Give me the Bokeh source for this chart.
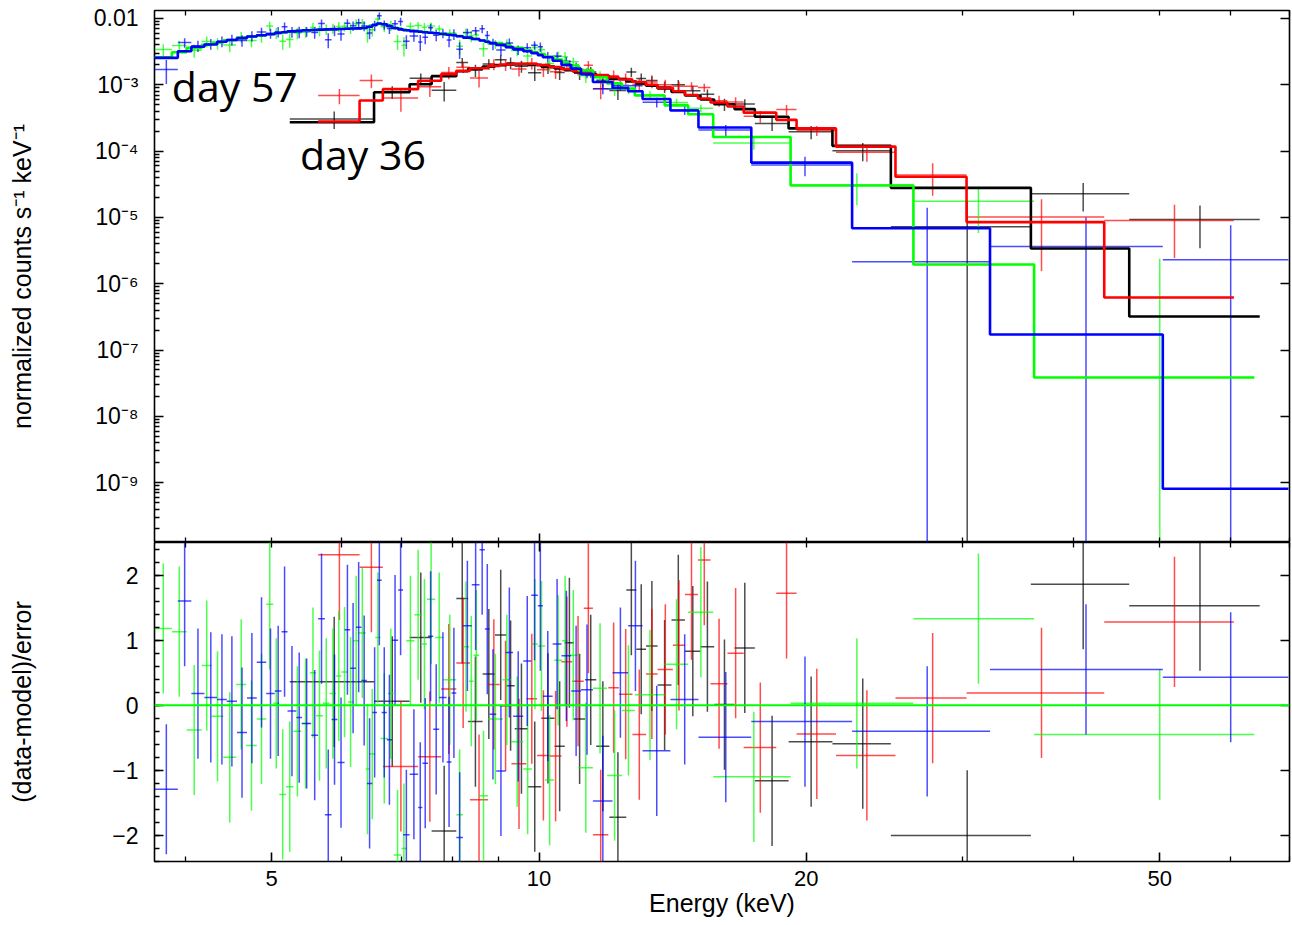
import numpy as np
from bokeh.plotting import figure
from bokeh.layouts import column
from bokeh.models import (Range1d, FixedTicker, LogAxis, LinearAxis, Label, Span,
                          CustomJSTickFormatter)
from bokeh.embed import file_html
from bokeh.resources import INLINE

# ---------------- data ----------------
# day 57, blue data set: bin edges (keV), model (counts/s/keV), residual, fractional error
blue_edges = [3.69, 3.92, 4.06, 4.20, 4.34, 4.45, 4.57, 4.69, 4.81, 4.93,
              5.04, 5.13, 5.21, 5.33, 5.41, 5.54, 5.64, 5.74, 5.84, 5.93,
              6.04, 6.13, 6.22, 6.31, 6.40, 6.49, 6.57, 6.65, 6.74, 6.83,
              6.94, 7.03, 7.15, 7.31, 7.39, 7.50, 7.60, 7.72, 7.87, 7.97,
              8.07, 8.21, 8.40, 8.57, 8.69, 8.80, 8.95, 9.17, 9.35, 9.60,
              9.80, 9.97, 10.10, 10.36, 10.60, 10.87, 11.15, 11.50, 12.10, 12.60,
              13.08, 14.06, 15.12, 17.34, 22.52, 32.20, 50.40, 69.80]
blue_model = [2.55e-3, 3.21e-3, 3.74e-3, 4.05e-3, 4.45e-3, 4.75e-3, 5.05e-3, 5.35e-3, 5.6e-3, 5.8e-3,
              6.05e-3, 6.2e-3, 6.4e-3, 6.5e-3, 6.65e-3, 6.7e-3, 6.8e-3, 6.85e-3, 6.9e-3, 6.95e-3,
              7.0e-3, 7.05e-3, 7.1e-3, 7.2e-3, 7.5e-3, 8.0e-3, 8.4e-3, 8.2e-3, 7.7e-3, 7.2e-3,
              6.85e-3, 6.65e-3, 6.45e-3, 6.3e-3, 6.2e-3, 6.1e-3, 6.0e-3, 5.85e-3, 5.7e-3, 5.6e-3,
              5.4e-3, 5.15e-3, 4.9e-3, 4.65e-3, 4.45e-3, 4.25e-3, 4.0e-3, 3.7e-3, 3.45e-3, 3.2e-3,
              3.0e-3, 2.8e-3, 2.6e-3, 2.3e-3, 2.0e-3, 1.75e-3, 1.45e-3, 1.1e-3, 9.0e-4, 8.0e-4,
              6.1e-4, 4.1e-4, 2.27e-4, 6.7e-5, 6.87e-6, 1.71e-7, 8.1e-10]
blue_resid = [-1.29, 1.60, 0.18, 0.12, 0.09, 0.06, -0.42, 0.11, 0.66, 0.18,
              0.22, 1.13, -0.09, -0.19, -0.28, -0.46, 1.33, -1.68, -0.22, -0.88,
              1.16, 0.57, 1.20, 0.38, -1.20, -0.11, 1.92, -0.11, -0.53, 1.00,
              1.77, -1.99, -1.06, -1.57, -0.89, 1.06, -0.37, 0.12, -0.87, 0.19,
              -2.03, 1.22, 1.85, 2.39, 1.17, -0.14, -1.01, 0.81, -0.17, 0.68,
              1.69, 1.53, 0.14, 0.94, 0.76, 0.22, 0.24, -1.47, 0.50, 1.22,
              -0.70, 0.09, -0.49, -0.25, -0.40, 0.55, 0.43]
blue_ferr = [0.26, 0.22, 0.20, 0.19, 0.19, 0.19, 0.18, 0.18, 0.18, 0.18,
             0.19, 0.19, 0.18, 0.19, 0.16, 0.18, 0.18, 0.18, 0.18, 0.18,
             0.18, 0.18, 0.18, 0.18, 0.16, 0.18, 0.16, 0.16, 0.16, 0.16,
             0.18, 0.16, 0.15, 0.19, 0.18, 0.18, 0.18, 0.16, 0.19, 0.19,
             0.18, 0.16, 0.18, 0.21, 0.21, 0.19, 0.16, 0.19, 0.16, 0.19,
             0.19, 0.22, 0.18, 0.18, 0.18, 0.19, 0.18, 0.14, 0.17, 0.17,
             0.15, 0.16, 0.17, 0.30, 1.72, 36.8, 6600.0]

# day 57, green data set
green_edges = [3.69, 3.86, 4.01, 4.17, 4.28, 4.41, 4.56, 4.68, 4.81, 4.93,
               5.02, 5.10, 5.19, 5.29, 5.40, 5.52, 5.61, 5.71, 5.81, 5.91,
               5.99, 6.09, 6.18, 6.27, 6.38, 6.44, 6.54, 6.63, 6.76, 6.86,
               7.00, 7.09, 7.24, 7.38, 7.48, 7.64, 7.80, 8.07, 8.21, 8.34,
               8.44, 8.56, 8.76, 9.10, 9.30, 9.60, 9.82, 9.97, 10.16, 10.40,
               10.62, 10.78, 11.08, 11.50, 11.93, 12.40, 12.82, 13.85, 14.72, 15.71,
               19.20, 26.40, 36.10, 63.90]
green_model = [2.6e-3, 3.1e-3, 3.6e-3, 4.0e-3, 4.35e-3, 4.7e-3, 5.0e-3, 5.3e-3, 5.6e-3, 5.8e-3,
               6.0e-3, 6.15e-3, 6.35e-3, 6.5e-3, 6.6e-3, 6.7e-3, 6.8e-3, 6.85e-3, 6.9e-3, 6.95e-3,
               7.0e-3, 7.05e-3, 7.1e-3, 7.15e-3, 7.4e-3, 7.8e-3, 8.3e-3, 8.2e-3, 7.6e-3, 7.1e-3,
               6.8e-3, 6.6e-3, 6.4e-3, 6.25e-3, 6.1e-3, 5.95e-3, 5.7e-3, 5.45e-3, 5.25e-3, 5.05e-3,
               4.9e-3, 4.65e-3, 4.25e-3, 3.9e-3, 3.6e-3, 3.3e-3, 3.1e-3, 2.9e-3, 2.65e-3, 2.4e-3,
               2.2e-3, 1.95e-3, 1.65e-3, 1.3e-3, 1.05e-3, 8.8e-4, 6.9e-4, 4.9e-4, 3.6e-4, 1.63e-4,
               3.03e-5, 1.95e-6, 3.85e-8]
green_resid = [1.18, 1.13, -0.38, 0.61, -0.17, -0.80, 0.32, -0.62, -0.21, 1.55,
               0.03, -1.37, -1.25, -0.40, -0.28, 0.50, -0.16, 0.03, 0.18, 0.45,
               0.51, 0.05, 0.99, 1.11, -0.98, -0.75, 1.04, -0.51, 0.18, -2.30,
               -2.20, 0.99, 1.39, 0.94, 1.63, 1.04, 0.39, -1.68, 0.90, 0.37,
               0.77, -1.39, -0.21, 0.39, -0.56, -0.98, 0.94, 0.91, -1.15, 0.69,
               0.99, 0.77, -0.96, 0.26, -1.08, -0.08, 0.16, 0.63, 1.43, -1.10,
               0.03, 1.33, -0.45]
green_ferr = [0.26, 0.23, 0.21, 0.21, 0.19, 0.19, 0.19, 0.19, 0.19, 0.21,
              0.19, 0.19, 0.19, 0.18, 0.18, 0.19, 0.18, 0.18, 0.18, 0.19,
              0.18, 0.18, 0.18, 0.18, 0.21, 0.18, 0.18, 0.16, 0.18, 0.16,
              0.19, 0.16, 0.16, 0.19, 0.16, 0.16, 0.15, 0.18, 0.18, 0.21,
              0.19, 0.18, 0.15, 0.18, 0.16, 0.18, 0.19, 0.18, 0.18, 0.19,
              0.21, 0.18, 0.18, 0.18, 0.17, 0.17, 0.14, 0.16, 0.16, 0.17,
              0.51, 6.0, 111.0]

# day 36, black data set
black_edges = [5.24, 6.52, 7.15, 7.57, 8.07, 8.32, 8.64, 8.92, 9.19, 9.39,
               9.72, 10.06, 10.41, 10.69, 10.95, 11.27, 11.60, 12.00, 12.54, 12.87,
               13.20, 13.60, 14.10, 14.60, 15.20, 15.75, 16.60, 17.50, 19.10, 21.40,
               24.90, 35.80, 46.20, 64.80]
black_model = [2.73e-4, 7.7e-4, 1.02e-3, 1.35e-3, 1.6e-3, 1.75e-3, 1.88e-3, 1.97e-3, 2.02e-3, 2.05e-3,
               2.0e-3, 1.88e-3, 1.76e-3, 1.66e-3, 1.56e-3, 1.45e-3, 1.34e-3, 1.22e-3, 1.12e-3, 1.05e-3,
               9.7e-4, 8.8e-4, 7.8e-4, 6.9e-4, 6.0e-4, 5.1e-4, 4.3e-4, 3.3e-4, 2.2e-4, 1.2e-4,
               2.79e-5, 3.4e-6, 3.2e-7]
black_resid = [0.36, 0.06, 1.04, -1.93, 1.64, -0.25, 0.48, 1.08, 0.30, -0.36,
               -1.25, -0.20, -0.63, 0.96, -0.21, 0.39, -0.63, -1.72, 1.77, 0.86,
               0.91, 0.31, 1.31, 0.83, 0.90, 0.01, 0.88, -1.16, -0.56, -0.59,
               -2.00, 1.86, 1.53]
black_ferr = [0.33, 0.22, 0.22, 0.20, 0.22, 0.20, 0.20, 0.20, 0.21, 0.19,
              0.19, 0.19, 0.20, 0.20, 0.20, 0.20, 0.20, 0.19, 0.22, 0.22,
              0.22, 0.21, 0.22, 0.22, 0.22, 0.21, 0.22, 0.18, 0.20, 0.26,
              0.37, 3.05, 18.3]

# day 36, red data set
red_edges = [5.64, 6.28, 6.67, 7.31, 7.76, 8.07, 8.36, 8.76, 9.03, 9.31,
             9.68, 9.95, 10.28, 10.60, 10.90, 11.23, 11.50, 11.97, 12.30, 12.74,
             13.20, 13.60, 14.15, 14.60, 15.10, 15.60, 16.30, 17.00, 18.50, 19.50,
             21.60, 25.20, 30.30, 43.30, 60.60]
red_model = [2.8e-4, 5.8e-4, 8.6e-4, 1.15e-3, 1.45e-3, 1.62e-3, 1.78e-3, 1.92e-3, 2.02e-3, 2.08e-3,
             2.08e-3, 1.98e-3, 1.85e-3, 1.72e-3, 1.6e-3, 1.5e-3, 1.4e-3, 1.3e-3, 1.2e-3, 1.1e-3,
             1.0e-3, 9.0e-4, 8.0e-4, 7.0e-4, 6.2e-4, 5.4e-4, 4.7e-4, 3.8e-4, 2.96e-4, 2.2e-4,
             1.17e-4, 4.1e-5, 8.5e-6, 6.2e-7]
red_resid = [2.31, 2.12, -0.94, -0.79, 0.25, 0.65, -1.45, 0.32, -0.01, -0.90,
             0.10, -0.77, -0.78, 0.67, 0.37, 1.49, -1.99, 0.27, 0.17, -0.45,
             0.48, 0.55, 0.92, 1.70, 2.23, 0.33, 0.80, -0.65, 1.72, -0.44,
             -0.77, 0.11, 0.19, 1.28]
red_ferr = [0.63, 0.47, 0.28, 0.24, 0.22, 0.21, 0.20, 0.20, 0.20, 0.19,
            0.20, 0.19, 0.19, 0.20, 0.20, 0.21, 0.19, 0.21, 0.20, 0.20,
            0.21, 0.21, 0.21, 0.21, 0.21, 0.20, 0.21, 0.18, 0.25, 0.16,
            0.23, 0.54, 1.01, 10.5]

# ticks and labels
x_decade_ticks = [10]
x_small_ticks = [4, 5, 6, 7, 8, 9, 20, 30, 40, 50, 60, 70]
x_label_ticks = [5, 10, 20, 50]
x_label_text = ["5", "10", "20", "50"]
x_label_minor = [4, 6, 7, 8, 9, 30, 40, 60, 70]
flux_ticks = [1e-2, 1e-3, 1e-4, 1e-5, 1e-6, 1e-7, 1e-8, 1e-9]
flux_labels = ["0.01", "10\u207b\u00b3", "10\u207b\u2074", "10\u207b\u2075",
               "10\u207b\u2076", "10\u207b\u2077", "10\u207b\u2078", "10\u207b\u2079"]
resid_ticks = [-2, -1, 0, 1, 2]
resid_labels = ["\u22122", "\u22121", "0", "1", "2"]

series_names = ["black", "red", "green", "blue"]
series_colors = {"black": "#000000", "red": "#ff0000", "green": "#00ff00", "blue": "#0000ff"}
series_data = {
    "black": (black_edges, black_model, black_resid, black_ferr),
    "red": (red_edges, red_model, red_resid, red_ferr),
    "green": (green_edges, green_model, green_resid, green_ferr),
    "blue": (blue_edges, blue_model, blue_resid, blue_ferr),
}

# ---------------- helpers ----------------
FONT = "Liberation Sans"


def lookup_fmt(vals, labs, log=False):
    f = "Math.log10(v)" if log else "v"
    code = ("const f = (v) => %s;\n"
            "for (let i = 0; i < vals.length; i++) {\n"
            "  if (Math.abs(f(vals[i]) - f(tick)) < 1e-6) { return labs[i]; }\n"
            "}\n"
            "return '';") % f
    return CustomJSTickFormatter(args=dict(vals=vals, labs=labs), code=code)


def add_axis(p, cls, side, ticks, minors, fmt=None, major_len=9, minor_len=5, size="22px"):
    ax = cls(ticker=FixedTicker(ticks=ticks, minor_ticks=minors))
    ax.axis_line_color = None
    ax.major_tick_in = major_len
    ax.major_tick_out = 0
    ax.minor_tick_in = minor_len
    ax.minor_tick_out = 0
    ax.major_tick_line_color = "black"
    ax.minor_tick_line_color = "black"
    ax.major_tick_line_width = 1.6
    ax.minor_tick_line_width = 1.3
    if fmt is None:
        ax.formatter = CustomJSTickFormatter(code="return '';")
        ax.major_label_text_font_size = "0px"
        ax.major_label_standoff = 0
    else:
        ax.formatter = fmt
        ax.major_label_text_font = FONT
        ax.major_label_text_font_size = size
        ax.major_label_text_color = "black"
    p.add_layout(ax, side)
    return ax


def style_title(ax, text, standoff):
    ax.axis_label = text
    ax.axis_label_text_font = FONT
    ax.axis_label_text_font_size = "25px"
    ax.axis_label_text_font_style = "normal"
    ax.axis_label_text_color = "black"
    ax.axis_label_standoff = standoff


def style_fig(p):
    p.grid.visible = False
    p.outline_line_color = "black"
    p.outline_line_width = 1.6
    p.background_fill_color = "white"
    p.border_fill_color = "white"


xr = Range1d(3.69, 70.0)

# ---------------- top panel ----------------
top = figure(width=1292, height=542, x_axis_type="log", y_axis_type="log",
             x_range=xr, y_range=Range1d(1.25e-10, 1.32e-2),
             x_axis_location=None, y_axis_location=None,
             toolbar_location=None, output_backend="svg",
             min_border_left=154, min_border_right=3, min_border_top=10, min_border_bottom=0)
style_fig(top)

flux_minor = [k * 10.0 ** d for d in range(-10, -1) for k in range(2, 10)]
ly = add_axis(top, LogAxis, "left", flux_ticks, flux_minor,
              lookup_fmt(flux_ticks, flux_labels, log=True), size="23px")
ly.major_label_standoff = 16
style_title(ly, "normalized counts s\u207b\u00b9 keV\u207b\u00b9", 55)
add_axis(top, LogAxis, "right", flux_ticks, [])
add_axis(top, LogAxis, "above", x_decade_ticks, x_small_ticks)
add_axis(top, LogAxis, "below", x_decade_ticks, x_small_ticks)

# ---------------- bottom panel ----------------
bot = figure(width=1292, height=382, x_axis_type="log",
             x_range=xr, y_range=Range1d(-2.4, 2.5),
             x_axis_location=None, y_axis_location=None,
             toolbar_location=None, output_backend="svg",
             min_border_left=154, min_border_right=3, min_border_top=0, min_border_bottom=63)
style_fig(bot)

resid_minor = [round(-2.4 + 0.2 * i, 1) for i in range(25)]
lr = add_axis(bot, LinearAxis, "left", resid_ticks, resid_minor,
              lookup_fmt(resid_ticks, resid_labels), size="23px")
lr.major_label_standoff = 16
style_title(lr, "(data-model)/error", 73)
add_axis(bot, LinearAxis, "right", resid_ticks, [])
add_axis(bot, LogAxis, "above", x_decade_ticks, x_small_ticks)
bx = add_axis(bot, LogAxis, "below", x_label_ticks, x_label_minor,
              lookup_fmt(x_label_ticks, x_label_text, log=True), size="22px")
bx.major_label_standoff = 9
style_title(bx, "Energy (keV)", 0)

# ---------------- glyphs ----------------
CROSS_ALPHA = 0.7
CROSS_W = 1.5

for name in series_names:
    edges, model, resid, ferr = series_data[name]
    e = np.asarray(edges, float)
    m = np.asarray(model, float)
    r = np.asarray(resid, float)
    fe = np.asarray(ferr, float)
    lo, hi = e[:-1], e[1:]
    mid = 0.5 * (lo + hi)
    err = m * fe
    data = m + r * err
    yh = np.where(data > 0, data, np.nan)
    up = data + err
    dn = np.clip(data - err, 1e-14, None)
    c = series_colors[name]
    top.segment(x0=lo, y0=yh, x1=hi, y1=yh, line_color=c, line_width=CROSS_W, line_alpha=CROSS_ALPHA)
    top.segment(x0=mid, y0=dn, x1=mid, y1=up, line_color=c, line_width=CROSS_W, line_alpha=CROSS_ALPHA)
    bot.segment(x0=lo, y0=r, x1=hi, y1=r, line_color=c, line_width=CROSS_W, line_alpha=CROSS_ALPHA)
    bot.segment(x0=mid, y0=r - 1, x1=mid, y1=r + 1, line_color=c, line_width=CROSS_W, line_alpha=CROSS_ALPHA)

for name in series_names:
    edges, model, resid, ferr = series_data[name]
    top.step(x=list(edges), y=list(model) + [model[-1]], mode="after",
             line_color=series_colors[name], line_width=2.6)

bot.add_layout(Span(location=0, dimension="width", line_color="#00ff00", line_width=1.8))

top.add_layout(Label(x=3.86, y=9.7e-4, text="day 57", text_font="Open Sans",
                     text_font_size="41px", text_color="black", text_baseline="alphabetic"))
top.add_layout(Label(x=5.38, y=9.2e-5, text="day 36", text_font="Open Sans",
                     text_font_size="41px", text_color="black", text_baseline="alphabetic"))

layout = column(top, bot)
open("out.html", "w").write(file_html(layout, INLINE, title="spectra"))
